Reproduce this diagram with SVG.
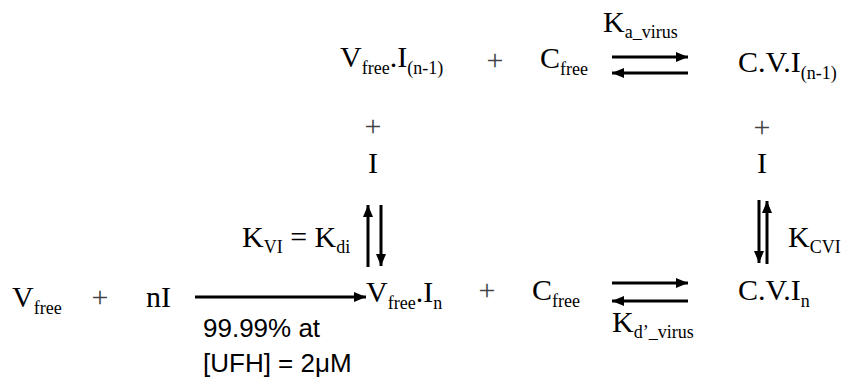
<svg xmlns="http://www.w3.org/2000/svg" width="843" height="378" viewBox="0 0 843 378">
<defs>
<style>
text{font-family:"Liberation Serif","Times New Roman",serif;font-size:30px;fill:#000}
.sub{font-size:18px}
.plus{fill:#444}
.note{font-family:"Liberation Sans",Arial,sans-serif;font-size:26px}
.ar{stroke:#000;stroke-width:3;fill:none}
</style>
<marker id="ah" markerWidth="12" markerHeight="10" refX="12" refY="5" orient="auto" markerUnits="userSpaceOnUse">
<path d="M0,0 L12,5 L0,10 Z" fill="#000"/>
</marker>
</defs>
<rect width="843" height="378" fill="#fff"/>

<g id="vfree-i-n1"><text x="340" y="67">V<tspan class="sub" dy="7">free</tspan><tspan dy="-7">.I</tspan><tspan class="sub" dy="7">(n-1)</tspan></text></g>
<g id="plus-top"><text class="plus" x="495" y="70" text-anchor="middle">+</text></g>
<g id="cfree-top"><text x="540" y="68">C<tspan class="sub" dy="7">free</tspan></text></g>
<g id="cvi-n1"><text x="738" y="72">C.V.I<tspan class="sub" dy="7">(n-1)</tspan></text></g>
<g id="ka-virus"><text x="603" y="32">K<tspan class="sub" dy="6">a_virus</tspan></text></g>

<g id="plus-left-mid"><text class="plus" x="373" y="136" text-anchor="middle">+</text></g>
<g id="i-left"><text x="373" y="173" text-anchor="middle">I</text></g>
<g id="plus-right-mid"><text class="plus" x="762" y="137" text-anchor="middle">+</text></g>
<g id="i-right"><text x="762" y="173" text-anchor="middle">I</text></g>

<g id="kvi"><text x="242" y="247">K<tspan class="sub" dy="6">VI</tspan><tspan dy="-6"> = K</tspan><tspan class="sub" dy="6">di</tspan></text></g>
<g id="kcvi"><text x="788" y="247">K<tspan class="sub" dy="6">CVI</tspan></text></g>

<g id="vfree"><text x="12" y="307">V<tspan class="sub" dy="7">free</tspan></text></g>
<g id="plus-bl"><text class="plus" x="100" y="307" text-anchor="middle">+</text></g>
<g id="ni"><text x="146" y="307">nI</text></g>
<g id="vfree-in"><text x="366" y="302">V<tspan class="sub" dy="7">free</tspan><tspan dy="-7">.I</tspan><tspan class="sub" dy="7">n</tspan></text></g>
<g id="plus-bm"><text class="plus" x="487" y="300" text-anchor="middle">+</text></g>
<g id="cfree-bottom"><text x="532" y="300">C<tspan class="sub" dy="7">free</tspan></text></g>
<g id="cvin"><text x="738" y="300">C.V.I<tspan class="sub" dy="7">n</tspan></text></g>
<g id="kd-virus"><text x="612" y="332">K<tspan class="sub" dy="6">d’_virus</tspan></text></g>
<g id="note"><text class="note" x="203" y="337">99.99% at</text><text class="note" x="203" y="372">[UFH] = 2μM</text></g>

<g id="connectors">
<line class="ar" x1="612" y1="57" x2="688" y2="57" marker-end="url(#ah)"/>
<line class="ar" x1="688" y1="73" x2="612" y2="73" marker-end="url(#ah)"/>
<line class="ar" x1="195" y1="297" x2="366" y2="297" marker-end="url(#ah)"/>
<line class="ar" x1="368" y1="267" x2="368" y2="205" marker-end="url(#ah)"/>
<line class="ar" x1="381" y1="205" x2="381" y2="266" marker-end="url(#ah)"/>
<line class="ar" x1="759" y1="200" x2="759" y2="263" marker-end="url(#ah)"/>
<line class="ar" x1="767" y1="264" x2="767" y2="201" marker-end="url(#ah)"/>
<line class="ar" x1="612" y1="283" x2="688" y2="283" marker-end="url(#ah)"/>
<line class="ar" x1="688" y1="301" x2="612" y2="301" marker-end="url(#ah)"/>
</g>
</svg>
